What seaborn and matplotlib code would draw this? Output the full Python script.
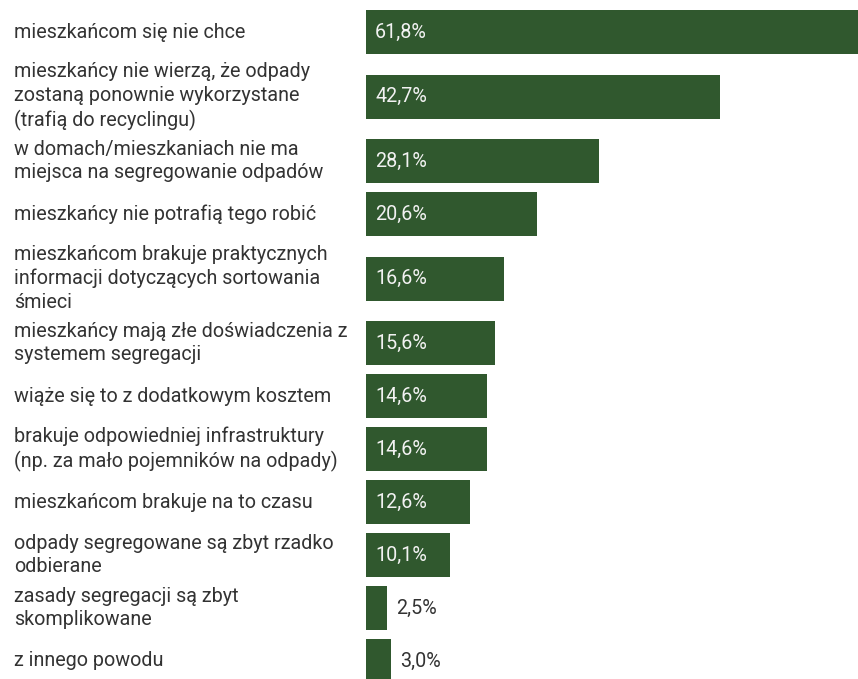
import matplotlib
matplotlib.use("Agg")
import numpy as np
import pandas as pd
import matplotlib.pyplot as plt
import matplotlib.transforms as mtransforms
import seaborn as sns

labels = [
    "mieszkańcom się nie chce",
    "mieszkańcy nie wierzą, że odpady\nzostaną ponownie wykorzystane\n(trafią do recyclingu)",
    "w domach/mieszkaniach nie ma\nmiejsca na segregowanie odpadów",
    "mieszkańcy nie potrafią tego robić",
    "mieszkańcom brakuje praktycznych\ninformacji dotyczących sortowania\nśmieci",
    "mieszkańcy mają złe doświadczenia z\nsystemem segregacji",
    "wiąże się to z dodatkowym kosztem",
    "brakuje odpowiedniej infrastruktury\n(np. za mało pojemników na odpady)",
    "mieszkańcom brakuje na to czasu",
    "odpady segregowane są zbyt rzadko\nodbierane",
    "zasady segregacji są zbyt\nskomplikowane",
    "z innego powodu",
]
values = [61.8, 42.7, 28.1, 20.6, 16.6, 15.6, 14.6, 14.6, 12.6, 10.1, 2.5, 3.0]

# layout (pixels)
W, H = 858, 679
bar_left = 366
px_per_pct = 8.29
bar_h = 44
line_h = 23
green = "#30582e"
grey = "#333333"
fs = 14.2

sns.set_style("white")
plt.rcParams["font.family"] = ["Roboto", "DejaVu Sans"]

# each row is as tall as its bar or its wrapped label, whichever is bigger
row_h = np.array([max(bar_h + 9, line_h * (l.count("\n") + 1) + 7) for l in labels])
centers = 5.5 + np.cumsum(row_h) - row_h / 2

df = pd.DataFrame({"label": labels, "value": values, "y": centers})

fig = plt.figure(figsize=(W / 100, H / 100), dpi=100)
ax = fig.add_axes([bar_left / W, 0, 1 - bar_left / W, 1])
sns.barplot(data=df, x="value", y="y", orient="h", native_scale=True,
            width=bar_h / np.diff(centers).min(), color=green, saturation=1,
            errorbar=None, edgecolor="none", ax=ax)
ax.set_xlim(0, (W - bar_left) / px_per_pct)
ax.set_ylim(H, 0)
ax.axis("off")

trans = mtransforms.blended_transform_factory(fig.transFigure, ax.transData)
off = 9 * 72 / 100  # 9 px in points
for lab, v, y in zip(df["label"], df["value"], df["y"]):
    ax.text(14 / W, y, lab, transform=trans, ha="left", va="center",
            fontsize=fs, color=grey, linespacing=1.31, clip_on=False)
    txt = f"{v:.1f}%".replace(".", ",")
    if v > 5:
        ax.annotate(txt, (0, y), xytext=(off, 0), textcoords="offset points",
                    ha="left", va="center", fontsize=fs, color="#f2f2f2")
    else:
        ax.annotate(txt, (v, y), xytext=(off, 0), textcoords="offset points",
                    ha="left", va="center", fontsize=fs, color=grey)

fig.savefig("out.png", dpi=100)
